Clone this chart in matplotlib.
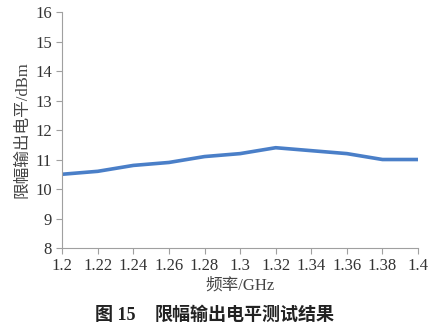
import matplotlib.pyplot as plt

plt.rcParams['font.family'] = ['Liberation Serif', 'Noto Sans CJK SC']

freq = [1.2, 1.22, 1.24, 1.26, 1.28, 1.3, 1.32, 1.34, 1.36, 1.38, 1.4]
level = [10.5, 10.6, 10.8, 10.9, 11.1, 11.2, 11.4, 11.3, 11.2, 11.0, 11.0]
xticks = ['1.2', '1.22', '1.24', '1.26', '1.28', '1.3', '1.32', '1.34', '1.36', '1.38', '1.4']

fig = plt.figure(figsize=(4.41, 3.3), dpi=100)
ax = fig.add_axes([0.141, 0.2485, 0.807, 0.715])

ax.plot(freq, level, color='#4a7fc8', linewidth=2.6, solid_capstyle='round')

ax.set_xlim(1.2, 1.4)
ax.set_ylim(8, 16)
ax.set_xticks(freq)
ax.set_xticklabels(xticks)
ax.set_yticks(range(8, 17))

for s in ['top', 'right']:
    ax.spines[s].set_visible(False)
for s in ['left', 'bottom']:
    ax.spines[s].set_color('#a0a0a0')
    ax.spines[s].set_linewidth(0.8)
ax.tick_params(colors='#a0a0a0', labelcolor='#333333', labelsize=12, length=4, width=0.8)

ax.set_xlabel('频率/GHz', fontsize=12, color='#444444', labelpad=2)
ax.set_ylabel('限幅输出电平/dBm', fontsize=12, color='#444444', labelpad=3)

fig.text(0.215, 0.03, '图 15', ha='left', fontsize=13, fontweight='bold', color='#222222')
fig.text(0.35, 0.03, '限幅输出电平测试结果', ha='left', fontsize=13,
         fontweight='bold', color='#222222')

fig.savefig('out.png', dpi=100)
